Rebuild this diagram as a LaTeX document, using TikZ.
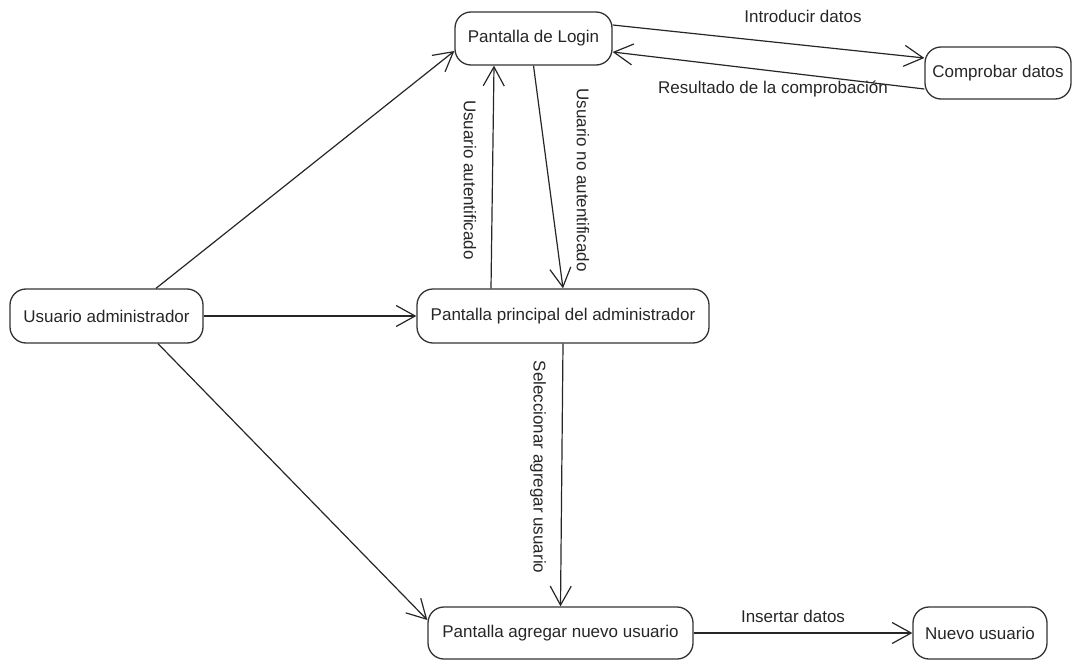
\documentclass[tikz,border=0pt]{standalone}
\usepackage{fontspec}
\setmainfont{Liberation Sans}
\usetikzlibrary{arrows.meta}
\begin{document}
\begin{tikzpicture}[x=1pt,y=-1pt,
  state/.style={draw=black!80, line width=1.3pt, rounded corners=16pt, inner sep=0pt,
    font=\fontsize{17}{20}\selectfont, text=black!85},
  conn/.style={draw=black!85, line width=1.2pt,
    -{Straight Barb[length=19pt,width=21pt,line width=1.2pt]}},
  lbl/.style={font=\fontsize{17}{20}\selectfont, text=black!85, inner sep=0pt}]
\useasboundingbox (0,0) rectangle (1074,661);
\node[state, minimum width=157pt, minimum height=53pt] (login) at (533.5,38.5) {Pantalla de Login};
\node[state, minimum width=146pt, minimum height=52pt] (comp) at (998,73) {Comprobar datos};
\node[state, minimum width=193pt, minimum height=54pt] (admin) at (106.5,316) {Usuario administrador};
\node[state, minimum width=292pt, minimum height=54pt] (princ) at (563,316) {Pantalla principal del administrador};
\node[state, minimum width=265pt, minimum height=52pt] (agreg) at (560.5,633) {Pantalla agregar nuevo usuario};
\node[state, minimum width=134pt, minimum height=52pt] (nuevo) at (980,633) {Nuevo usuario};

\draw[conn] ([yshift=13.5pt]login.east) -- ([yshift=15pt]comp.west);
\draw[conn] ([yshift=-16pt]comp.west) -- ([yshift=-13.5pt]login.east);
\draw[conn] ([xshift=49.5pt]admin.north) -- ([yshift=-12.5pt]login.west);
\draw[conn] (admin.east) -- (princ.west);
\draw[conn] ([xshift=51.5pt]admin.south) -- ([yshift=13pt]agreg.west);
\draw[conn] ([xshift=-72pt]princ.north) -- ([xshift=-39.5pt]login.south);
\draw[conn] (login.south) -- (princ.north);
\draw[conn] (princ.south) -- (agreg.north);
\draw[conn] (agreg.east) -- (nuevo.west);

\node[lbl] (l1) at (803,16) {Introducir datos};
\node[lbl] (l2) at (773,89) {Resultado de la comprobación};
\node[lbl, rotate=-90] (l3) at (470,180) {Usuario autentificado};
\node[lbl, rotate=-90] (l4) at (583,180) {Usuario no autentificado};
\node[lbl, rotate=-90] (l5) at (538,467) {Seleccionar agregar usuario};
\node[lbl] (l6) at (793,616) {Insertar datos};
\end{tikzpicture}
\end{document}
